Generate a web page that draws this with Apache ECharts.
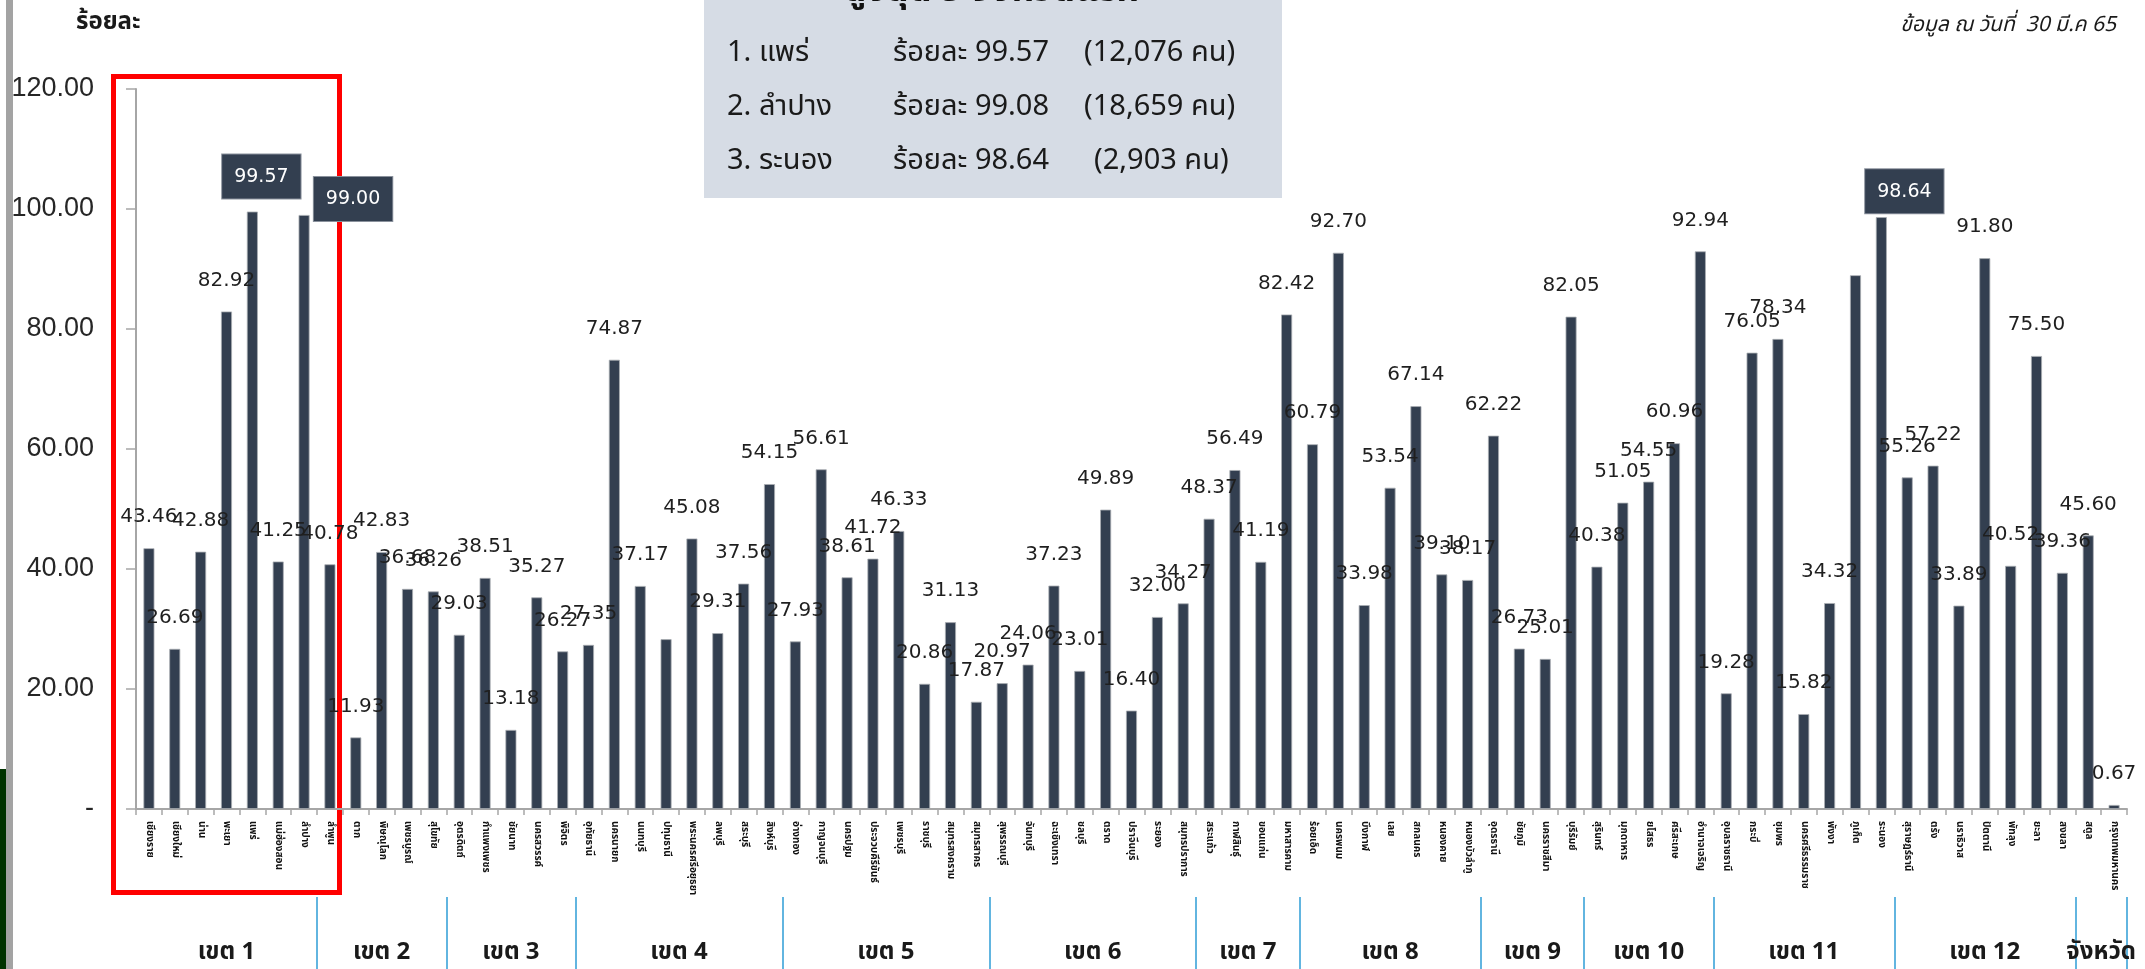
<!DOCTYPE html>
<html><head><meta charset="utf-8">
<script src="https://cdn.jsdelivr.net/npm/echarts@6/dist/echarts.min.js"></script>
<style>html,body{margin:0;padding:0;background:#fff;overflow:hidden}#c{width:2145px;height:969px}</style>
</head><body><div id="c"></div>
<script>
const provinces = [
 'เชียงราย','เชียงใหม่','น่าน','พะเยา','แพร่','แม่ฮ่องสอน','ลำปาง','ลำพูน',
 'ตาก','พิษณุโลก','เพชรบูรณ์','สุโขทัย','อุตรดิตถ์',
 'กำแพงเพชร','ชัยนาท','นครสวรรค์','พิจิตร','อุทัยธานี',
 'นครนายก','นนทบุรี','ปทุมธานี','พระนครศรีอยุธยา','ลพบุรี','สระบุรี','สิงห์บุรี','อ่างทอง',
 'กาญจนบุรี','นครปฐม','ประจวบคีรีขันธ์','เพชรบุรี','ราชบุรี','สมุทรสงคราม','สมุทรสาคร','สุพรรณบุรี',
 'จันทบุรี','ฉะเชิงเทรา','ชลบุรี','ตราด','ปราจีนบุรี','ระยอง','สมุทรปราการ','สระแก้ว',
 'กาฬสินธุ์','ขอนแก่น','มหาสารคาม','ร้อยเอ็ด',
 'นครพนม','บึงกาฬ','เลย','สกลนคร','หนองคาย','หนองบัวลำภู','อุดรธานี',
 'ชัยภูมิ','นครราชสีมา','บุรีรัมย์','สุรินทร์',
 'มุกดาหาร','ยโสธร','ศรีสะเกษ','อำนาจเจริญ','อุบลราชธานี',
 'กระบี่','ชุมพร','นครศรีธรรมราช','พังงา','ภูเก็ต','ระนอง','สุราษฎร์ธานี',
 'ตรัง','นราธิวาส','ปัตตานี','พัทลุง','ยะลา','สงขลา','สตูล',
 'กรุงเทพมหานคร'
];
const values = [
 43.46,26.69,42.88,82.92,99.57,41.25,99.00,40.78,
 11.93,42.83,36.68,36.26,29.03,
 38.51,13.18,35.27,26.27,27.35,
 74.87,37.17,28.30,45.08,29.31,37.56,54.15,27.93,
 56.61,38.61,41.72,46.33,20.86,31.13,17.87,20.97,
 24.06,37.23,23.01,49.89,16.40,32.00,34.27,48.37,
 56.49,41.19,82.42,60.79,
 92.70,33.98,53.54,67.14,39.10,38.17,62.22,
 26.73,25.01,82.05,40.38,
 51.05,54.55,60.96,92.94,19.28,
 76.05,78.34,15.82,34.32,88.96,98.64,55.26,
 57.22,33.89,91.80,40.52,75.50,39.36,45.60,
 0.67
];
const groupNames = ['เขต 1','เขต 2','เขต 3','เขต 4','เขต 5','เขต 6','เขต 7','เขต 8','เขต 9','เขต 10','เขต 11','เขต 12','จังหวัด'];
const groupSizes = [8,5,5,8,8,8,4,7,4,5,7,7,1];
const yTicks = [0,20,40,60,80,100,120];
const highlighted = [4,6,67];      // boxed labels
const unlabeled = [20,66];          // bars drawn without a value label
const top3 = [
 ['1. แพร่','ร้อยละ 99.57','(12,076 คน)'],
 ['2. ลำปาง','ร้อยละ 99.08','(18,659 คน)'],
 ['3. ระนอง','ร้อยละ 98.64','(2,903 คน)']
];

const N = provinces.length;
// divider positions (as drawn in the source, at the start of each region's last bar)
const dividers = [];
let acc = 0;
for (let k = 0; k < groupSizes.length - 1; k++) { acc += groupSizes[k]; dividers.push(acc - 1); }
const bounds = [0].concat(dividers, [N]);
const groupCenters = groupNames.map((g, k) => (bounds[k] + bounds[k + 1]) / 2);

const THAI = '"Noto Sans Thai","Tahoma","Leelawadee UI","DejaVu Sans",sans-serif';
const boxOffsets = { 4: [9, 8], 6: [49, 27], 67: [23, 17] };

const barData = values.map((v, i) => {
  const d = { value: v };
  if (unlabeled.includes(i)) d.label = { show: false };
  if (highlighted.includes(i)) d.label = {
    show: true, backgroundColor: '#333f50', borderColor: '#8a919c', borderWidth: 1,
    color: '#ffffff', padding: [13, 12, 12, 12], fontSize: 19, offset: boxOffsets[i]
  };
  return d;
});

const chart = echarts.init(document.getElementById('c'), null, { renderer: 'canvas' });
chart.setOption({
  animation: false,
  backgroundColor: '#ffffff',
  grid: { left: 136, right: 18, top: 89, bottom: 160, containLabel: false },
  xAxis: [
    { type: 'category', data: provinces, gridIndex: 0,
      axisLine: { lineStyle: { color: '#a6a6a6', width: 2 } },
      axisTick: { show: true, interval: 0, length: 6, lineStyle: { color: '#a6a6a6', width: 1.5 } },
      axisLabel: { interval: 0, rotate: -90, fontSize: 10, fontWeight: 'bold', color: '#111', margin: 12, fontFamily: THAI } },
    { type: 'value', min: 0, max: N, interval: 0.5, gridIndex: 0, position: 'bottom',
      axisLine: { show: false }, axisTick: { show: false }, splitLine: { show: false },
      axisLabel: { margin: 133, fontSize: 24, fontWeight: 'bold', color: '#1a1a1a', fontFamily: THAI,
        formatter: (v) => { const k = groupCenters.findIndex(c => Math.abs(c - v) < 1e-6); return k >= 0 ? groupNames[k] : ''; } } },
    { type: 'category', data: provinces, gridIndex: 0, position: 'bottom', offset: 88,
      axisLine: { show: false }, axisLabel: { show: false },
      axisTick: { show: true, length: 80, interval: (idx) => dividers.includes(idx), lineStyle: { color: '#62b5e0', width: 2 } } }
  ],
  yAxis: {
    type: 'value', min: yTicks[0], max: yTicks[yTicks.length - 1], interval: 20,
    axisLine: { show: true, lineStyle: { color: '#a6a6a6', width: 2 } },
    axisTick: { show: true, length: 10, lineStyle: { color: '#a6a6a6', width: 1.5 } },
    splitLine: { show: false },
    axisLabel: { margin: 42, fontSize: 27, color: '#262626', fontFamily: '"Liberation Sans",Arial,sans-serif',
      formatter: (v) => v === 0 ? '-' : v.toFixed(2) }
  },
  series: [{
    type: 'bar', data: barData, barWidth: 11, xAxisIndex: 0, yAxisIndex: 0,
    itemStyle: { color: '#333f50', borderColor: '#a9adb3', borderWidth: 0.8 },
    label: { show: true, position: 'top', distance: 21, fontSize: 20, color: '#1f1f1f',
      fontFamily: '"DejaVu Sans",Verdana,sans-serif', formatter: (p) => p.value.toFixed(2) }
  }],
  graphic: [
    { type: 'rect', shape: { x: 704, y: 0, width: 578, height: 198 }, style: { fill: '#d6dce5' }, z: -1 },
    { type: 'text', x: 992, y: 12, style: { text: 'สูงสุด 3 จังหวัดแรก', font: 'bold 36px ' + THAI, fill: '#111', align: 'center', verticalAlign: 'bottom' } },
    ...top3.flatMap((r, i) => [
      { type: 'text', x: 727, y: 55 + i * 54, style: { text: r[0], font: '29px ' + THAI, fill: '#1a1a1a', verticalAlign: 'middle' } },
      { type: 'text', x: 893, y: 55 + i * 54, style: { text: r[1], font: '29px ' + THAI, fill: '#1a1a1a', verticalAlign: 'middle' } },
      { type: 'text', x: i === 2 ? 1094 : 1084, y: 55 + i * 54, style: { text: r[2], font: '29px ' + THAI, fill: '#1a1a1a', verticalAlign: 'middle' } }
    ]),
    { type: 'text', x: 76, y: 24, style: { text: 'ร้อยละ', font: 'bold 24px ' + THAI, fill: '#1a1a1a', verticalAlign: 'middle' } },
    { type: 'text', x: 2116, y: 27, style: { text: 'ข้อมูล ณ วันที่  30 มี.ค 65', font: 'italic 21px ' + THAI, fill: '#1a1a1a', align: 'right', verticalAlign: 'middle' } },
    { type: 'rect', shape: { x: 113.5, y: 76.5, width: 226, height: 816 }, style: { fill: 'none', stroke: '#ff0000', lineWidth: 5 } },
    { type: 'rect', shape: { x: 6, y: 0, width: 7, height: 969 }, style: { fill: '#a3a3a3' } },
    { type: 'rect', shape: { x: 0, y: 769, width: 6, height: 200 }, style: { fill: '#003300' } }
  ]
});
</script>
</body></html>
